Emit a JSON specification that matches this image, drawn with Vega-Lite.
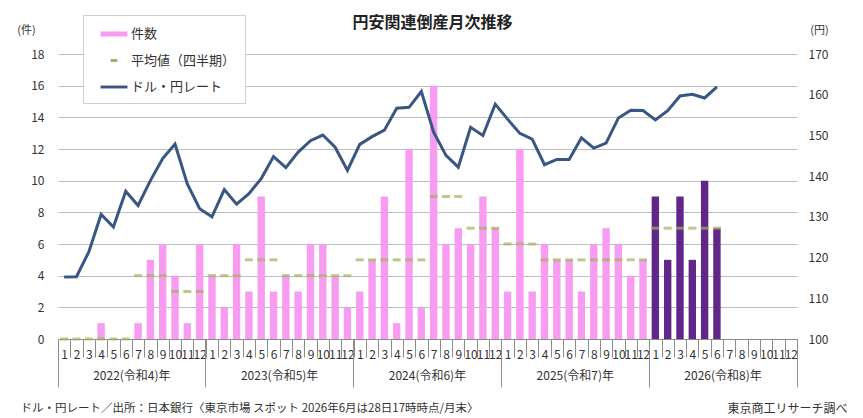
{
  "$schema": "https://vega.github.io/schema/vega-lite/v6.json",
  "width": 739,
  "height": 285,
  "autosize": "none",
  "padding": {"left": 58, "top": 54, "right": 66, "bottom": 79},
  "background": "white",
  "title": {
    "text": "円安関連倒産月次推移",
    "fontSize": 16,
    "fontWeight": "bold",
    "color": "#222",
    "anchor": "middle",
    "dx": 5,
    "offset": -16
  },
  "data": {
    "values": [
      {"ym": "2022-01", "year": "2022", "count": 0, "avg": 0, "rate": 115.2},
      {"ym": "2022-02", "year": "2022", "count": 0, "avg": 0, "rate": 115.3},
      {"ym": "2022-03", "year": "2022", "count": 0, "avg": 0, "rate": 121.4},
      {"ym": "2022-04", "year": "2022", "count": 1, "avg": 0, "rate": 130.6},
      {"ym": "2022-05", "year": "2022", "count": 0, "avg": 0, "rate": 127.5},
      {"ym": "2022-06", "year": "2022", "count": 0, "avg": 0, "rate": 136.3},
      {"ym": "2022-07", "year": "2022", "count": 1, "avg": 4, "rate": 132.8},
      {"ym": "2022-08", "year": "2022", "count": 5, "avg": 4, "rate": 138.9},
      {"ym": "2022-09", "year": "2022", "count": 6, "avg": 4, "rate": 144.3},
      {"ym": "2022-10", "year": "2022", "count": 4, "avg": 3, "rate": 147.9},
      {"ym": "2022-11", "year": "2022", "count": 1, "avg": 3, "rate": 138.1},
      {"ym": "2022-12", "year": "2022", "count": 6, "avg": 3, "rate": 132.0},
      {"ym": "2023-01", "year": "2023", "count": 4, "avg": 4, "rate": 130.0},
      {"ym": "2023-02", "year": "2023", "count": 2, "avg": 4, "rate": 136.7},
      {"ym": "2023-03", "year": "2023", "count": 6, "avg": 4, "rate": 133.1},
      {"ym": "2023-04", "year": "2023", "count": 3, "avg": 5, "rate": 135.7},
      {"ym": "2023-05", "year": "2023", "count": 9, "avg": 5, "rate": 139.4},
      {"ym": "2023-06", "year": "2023", "count": 3, "avg": 5, "rate": 144.8},
      {"ym": "2023-07", "year": "2023", "count": 4, "avg": 4, "rate": 142.1},
      {"ym": "2023-08", "year": "2023", "count": 3, "avg": 4, "rate": 145.9},
      {"ym": "2023-09", "year": "2023", "count": 6, "avg": 4, "rate": 148.7},
      {"ym": "2023-10", "year": "2023", "count": 6, "avg": 4, "rate": 150.1},
      {"ym": "2023-11", "year": "2023", "count": 4, "avg": 4, "rate": 147.1},
      {"ym": "2023-12", "year": "2023", "count": 2, "avg": 4, "rate": 141.4},
      {"ym": "2024-01", "year": "2024", "count": 3, "avg": 5, "rate": 147.8},
      {"ym": "2024-02", "year": "2024", "count": 5, "avg": 5, "rate": 149.7},
      {"ym": "2024-03", "year": "2024", "count": 9, "avg": 5, "rate": 151.3},
      {"ym": "2024-04", "year": "2024", "count": 1, "avg": 5, "rate": 156.7},
      {"ym": "2024-05", "year": "2024", "count": 12, "avg": 5, "rate": 156.9},
      {"ym": "2024-06", "year": "2024", "count": 2, "avg": 5, "rate": 160.8},
      {"ym": "2024-07", "year": "2024", "count": 16, "avg": 9, "rate": 150.8},
      {"ym": "2024-08", "year": "2024", "count": 6, "avg": 9, "rate": 145.1},
      {"ym": "2024-09", "year": "2024", "count": 7, "avg": 9, "rate": 142.2},
      {"ym": "2024-10", "year": "2024", "count": 6, "avg": 7, "rate": 152.0},
      {"ym": "2024-11", "year": "2024", "count": 9, "avg": 7, "rate": 150.0},
      {"ym": "2024-12", "year": "2024", "count": 7, "avg": 7, "rate": 157.7},
      {"ym": "2025-01", "year": "2025", "count": 3, "avg": 6, "rate": 154.0},
      {"ym": "2025-02", "year": "2025", "count": 12, "avg": 6, "rate": 150.5},
      {"ym": "2025-03", "year": "2025", "count": 3, "avg": 6, "rate": 149.1},
      {"ym": "2025-04", "year": "2025", "count": 6, "avg": 5, "rate": 142.8},
      {"ym": "2025-05", "year": "2025", "count": 5, "avg": 5, "rate": 144.1},
      {"ym": "2025-06", "year": "2025", "count": 5, "avg": 5, "rate": 144.1},
      {"ym": "2025-07", "year": "2025", "count": 3, "avg": 5, "rate": 149.4},
      {"ym": "2025-08", "year": "2025", "count": 6, "avg": 5, "rate": 146.9},
      {"ym": "2025-09", "year": "2025", "count": 7, "avg": 5, "rate": 148.1},
      {"ym": "2025-10", "year": "2025", "count": 6, "avg": 5, "rate": 154.3},
      {"ym": "2025-11", "year": "2025", "count": 4, "avg": 5, "rate": 156.2},
      {"ym": "2025-12", "year": "2025", "count": 5, "avg": 5, "rate": 156.1},
      {"ym": "2026-01", "year": "2026", "count": 9, "avg": 7, "rate": 153.8},
      {"ym": "2026-02", "year": "2026", "count": 5, "avg": 7, "rate": 156.1},
      {"ym": "2026-03", "year": "2026", "count": 9, "avg": 7, "rate": 159.7},
      {"ym": "2026-04", "year": "2026", "count": 5, "avg": 7, "rate": 160.1},
      {"ym": "2026-05", "year": "2026", "count": 10, "avg": 7, "rate": 159.2},
      {"ym": "2026-06", "year": "2026", "count": 7, "avg": 7, "rate": 161.9}
    ]
  },
  "layer": [
    {
      "mark": {"type": "bar", "width": {"band": 0.6}},
      "encoding": {
        "x": {
          "field": "ym",
          "type": "ordinal",
          "scale": {
            "domain": [
              "2022-01", "2022-02", "2022-03", "2022-04", "2022-05", "2022-06", "2022-07", "2022-08", "2022-09", "2022-10", "2022-11", "2022-12",
              "2023-01", "2023-02", "2023-03", "2023-04", "2023-05", "2023-06", "2023-07", "2023-08", "2023-09", "2023-10", "2023-11", "2023-12",
              "2024-01", "2024-02", "2024-03", "2024-04", "2024-05", "2024-06", "2024-07", "2024-08", "2024-09", "2024-10", "2024-11", "2024-12",
              "2025-01", "2025-02", "2025-03", "2025-04", "2025-05", "2025-06", "2025-07", "2025-08", "2025-09", "2025-10", "2025-11", "2025-12",
              "2026-01", "2026-02", "2026-03", "2026-04", "2026-05", "2026-06", "2026-07", "2026-08", "2026-09", "2026-10", "2026-11", "2026-12"
            ],
            "paddingInner": 0,
            "paddingOuter": 0
          },
          "axis": {
            "orient": "bottom",
            "labelExpr": "datum.value ? toNumber(slice(datum.value, 5, 7)) : ''",
            "labelAngle": 0,
            "labelFontSize": 12,
            "labelPadding": -8,
            "tickBand": "extent",
            "tickSize": 18,
            "tickColor": "#8c8c8c",
            "domainColor": "#8c8c8c",
            "grid": false,
            "title": "ドル・円レート／出所：日本銀行〈東京市場  スポット  2026年6月は28日17時時点/月末〉",
            "titleX": -38,
            "titleY": 69,
            "titleAlign": "left",
            "titleBaseline": "middle",
            "titleFontSize": 11.5,
            "titleFontWeight": "normal"
          }
        },
        "y": {
          "field": "count",
          "type": "quantitative",
          "scale": {"domain": [0, 18]},
          "axis": {
            "orient": "left",
            "values": [0, 2, 4, 6, 8, 10, 12, 14, 16, 18],
            "grid": true,
            "gridColor": "#bdbdbd",
            "domain": false,
            "ticks": false,
            "labelPadding": 14,
            "labelFontSize": 12,
            "title": "(件)",
            "titleAngle": 0,
            "titleX": -32,
            "titleY": -24,
            "titleAlign": "center",
            "titleBaseline": "middle",
            "titleFontSize": 11,
            "titleFontWeight": "normal"
          }
        },
        "fill": {
          "field": "year",
          "type": "nominal",
          "scale": {
            "domain": ["2022", "2023", "2024", "2025", "2026"],
            "range": ["#f79cf1", "#f79cf1", "#f79cf1", "#f79cf1", "#602788"]
          },
          "legend": null
        }
      }
    },
    {
      "mark": {"type": "tick", "thickness": 3, "size": 8},
      "encoding": {
        "x": {
          "field": "ym",
          "type": "ordinal",
          "axis": {
            "orient": "bottom",
            "values": ["2022-01", "2023-01", "2024-01", "2025-01", "2026-01"],
            "bandPosition": 0,
            "tickSize": 48,
            "tickColor": "#8c8c8c",
            "domain": false,
            "labelAngle": 0,
            "labelFontSize": 12,
            "labelOffset": 67.7,
            "labelPadding": -17,
            "labelExpr": "datum.value ? slice(datum.value, 0, 4) + '(令和' + (toNumber(slice(datum.value, 0, 4)) - 2018) + ')年' : ''",
            "grid": false,
            "title": null
          }
        },
        "y": {
          "field": "avg",
          "type": "quantitative",
          "scale": {"domain": [0, 18]},
          "axis": null
        },
        "color": {"datum": "平均値（四半期）", "type": "nominal"}
      }
    },
    {
      "mark": {"type": "line", "strokeWidth": 3},
      "encoding": {
        "x": {
          "field": "ym",
          "type": "ordinal",
          "axis": {
            "orient": "bottom",
            "values": ["2026-12"],
            "bandPosition": 1,
            "tickSize": 48,
            "tickColor": "#8c8c8c",
            "domain": false,
            "labels": false,
            "grid": false,
            "title": "東京商工リサーチ調べ",
            "titleX": 789,
            "titleY": 69,
            "titleAlign": "right",
            "titleBaseline": "middle",
            "titleFontSize": 12,
            "titleFontWeight": "normal"
          }
        },
        "y": {
          "field": "rate",
          "type": "quantitative",
          "scale": {"domain": [100, 170]},
          "axis": {
            "orient": "right",
            "values": [100, 110, 120, 130, 140, 150, 160, 170],
            "grid": false,
            "domain": false,
            "ticks": false,
            "labelPadding": 11,
            "labelFontSize": 12,
            "title": "(円)",
            "titleAngle": 0,
            "titleX": 22,
            "titleY": -24,
            "titleAlign": "center",
            "titleBaseline": "middle",
            "titleFontSize": 11,
            "titleFontWeight": "normal"
          }
        },
        "color": {
          "datum": "ドル・円レート",
          "type": "nominal",
          "scale": {
            "domain": ["件数", "平均値（四半期）", "ドル・円レート"],
            "range": ["#f79cf1", "#9fb25c", "#3a5683"]
          },
          "legend": {
            "orient": "none",
            "legendX": 25,
            "legendY": -39,
            "title": null,
            "fillColor": "white",
            "strokeColor": "#d0d0d0",
            "padding": 9,
            "symbolSize": 380,
            "symbolOffset": 12,
            "labelFontSize": 13,
            "labelOffset": 7,
            "rowPadding": 9.5,
            "labelLimit": 200,
            "encode": {
              "symbols": {
                "update": {
                  "shape": {"signal": "datum.value === '件数' ? 'M-1.38,-0.26H1.38V0.26H-1.38Z' : datum.value === 'ドル・円レート' ? 'M-1.38,-0.15H1.38V0.15H-1.38Z' : 'M-0.34,-0.15H0.34V0.15H-0.34Z'"},
                  "fill": {"signal": "scale('color', datum.value)"},
                  "strokeWidth": {"value": 0},
                  "opacity": {"value": 1}
                }
              }
            }
          }
        }
      }
    }
  ],
  "resolve": {
    "scale": {"y": "independent"},
    "axis": {"x": "independent", "y": "independent"}
  },
  "config": {
    "font": "Noto Sans CJK JP",
    "view": {"stroke": null},
    "axis": {"labelColor": "#333", "titleColor": "#333", "labelFont": "Noto Sans CJK JP", "titleFont": "Noto Sans CJK JP"},
    "legend": {"labelColor": "#333", "labelFont": "Noto Sans CJK JP"},
    "title": {"font": "Noto Sans CJK JP"}
  }
}
